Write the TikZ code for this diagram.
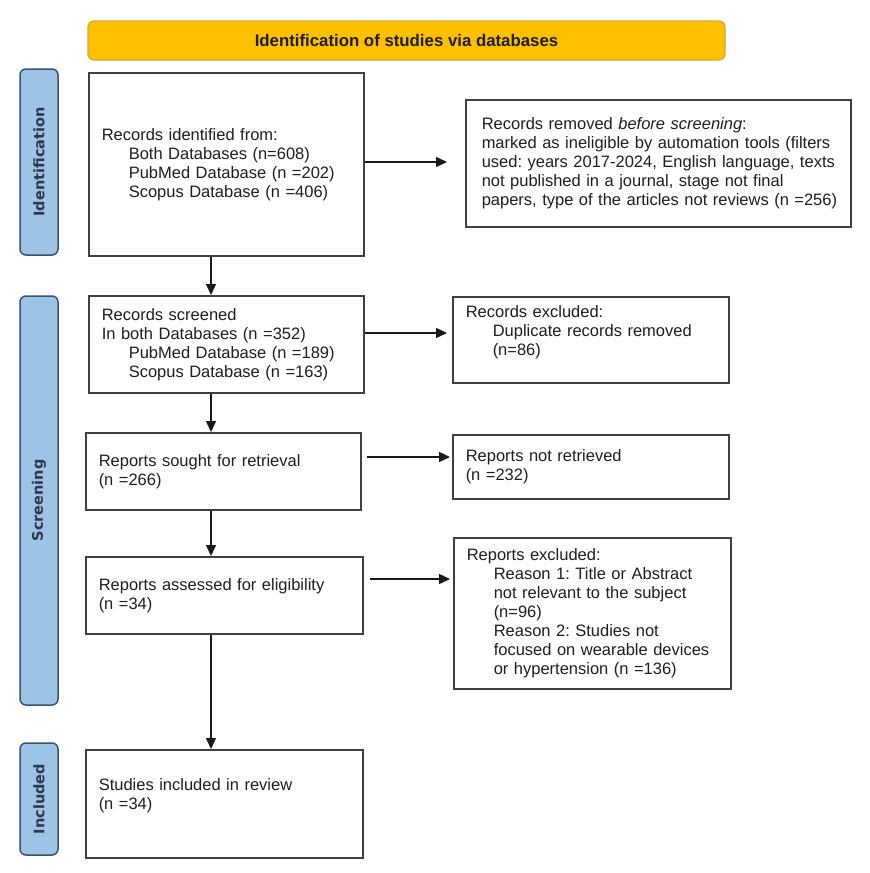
\documentclass[tikz,border=0pt]{standalone}
\usepackage{fontspec}
\setmainfont{Liberation Sans}
\newfontfamily\sidefont{DejaVu Sans}
\usetikzlibrary{arrows.meta}
\definecolor{gold}{HTML}{FFC000}
\definecolor{goldedge}{HTML}{D4A72C}
\definecolor{sideblue}{HTML}{9DC3E6}
\definecolor{sideedge}{HTML}{3A536B}
\definecolor{sidetext}{HTML}{2B3A4A}
\definecolor{txt}{HTML}{1E1E1E}
\frenchspacing
\hbadness=10000 \hfuzz=50pt
\begin{document}
\begin{tikzpicture}[x=1pt,y=-1pt,
  box/.style={draw=black!75, line width=1.5pt, anchor=north west, align=left,
    font=\fontsize{16.5}{19}\selectfont, text=txt, inner xsep=13pt, inner ysep=0pt},
  side/.style={draw=sideedge, fill=sideblue, line width=1.5pt, rounded corners=6pt,
    rotate=90, minimum height=38pt, inner sep=0pt, text=sidetext,
    font=\sidefont\bfseries\fontsize{14.5}{16}\selectfont},
  arr/.style={draw=black!90, line width=1.4pt, -{Triangle[length=11pt,width=10pt]}}]
\useasboundingbox (0,0) rectangle (870,873);
% banner
\node[draw=goldedge, fill=gold, line width=1.2pt, rounded corners=6pt,
  minimum width=637pt, minimum height=39pt, inner sep=0pt,
  font=\bfseries\fontsize{16.8}{18}\selectfont, text=txt] (banner) at (406.5,40.5)
  {Identification of studies via databases};
% side bars
\node[side, minimum width=186pt] (sid) at (39,162) {Identification};
\node[side, minimum width=409pt] (sscr) at (39,500.5) {Screening};
\node[side, minimum width=112pt] (sinc) at (39,799) {Included};
% boxes
\newcommand{\ii}{\hspace*{27pt}}
\newcommand{\nbl}[1]{\mbox{#1}}
\node[box, minimum width=275pt, minimum height=183pt, text width=249pt] (b1) at (88,72)
  {Records identified from:\\ \ii Both Databases (n=608)\\ \ii PubMed Database (n =202)\\ \ii Scopus Database (n =406)};
\node[box, inner xsep=16pt, minimum width=385pt, minimum height=127pt, text width=353pt] (r1) at (465,99)
  {\nbl{Records removed \textit{before screening}:}\\ \nbl{marked as ineligible by automation tools (filters}\\ \nbl{used: years 2017-2024, English language, texts}\\ \nbl{not published in a journal, stage not final}\\ \nbl{papers, type of the articles not reviews (n =256)}};
\node[box, minimum width=275pt, minimum height=97pt, text width=249pt] (b2) at (88,295)
  {Records screened\\ In both Databases (n =352)\\ \ii PubMed Database (n =189)\\ \ii Scopus Database (n =163)};
\node[box, minimum width=276pt, minimum height=86pt, text width=250pt] (r2) at (452,296)
  {Records excluded:\\ \ii Duplicate records removed\\ \ii (n=86)\\ ~};
\node[box, minimum width=275pt, minimum height=77pt, text width=249pt] (b3) at (85,432)
  {Reports sought for retrieval\\ (n =266)};
\node[box, minimum width=276pt, minimum height=64pt, text width=250pt] (r3) at (452,434)
  {Reports not retrieved\\ (n =232)};
\node[box, minimum width=277pt, minimum height=77pt, text width=251pt] (b4) at (85,556)
  {Reports assessed for eligibility\\ (n =34)};
\node[box, minimum width=277pt, minimum height=151pt, text width=251pt] (r4) at (453,537)
  {Reports excluded:\\ \ii Reason 1: Title or Abstract\\ \ii not relevant to the subject\\ \ii (n=96)\\ \ii Reason 2: Studies not\\ \ii focused on wearable devices\\ \ii or hypertension (n =136)};
\node[box, minimum width=277pt, minimum height=108pt, text width=251pt] (b5) at (85,749)
  {Studies included in review\\ (n =34)\\ ~};
% arrow guide coordinates
\coordinate (ax) at (211,0);
\coordinate (ay1) at (0,162);
\coordinate (ay2) at (0,333);
\coordinate (ay3) at (0,457);
\coordinate (ay4) at (0,579);
% vertical arrows
\draw[arr] (b1.south -| ax) -- (b2.north -| ax);
\draw[arr] (b2.south -| ax) -- (b3.north -| ax);
\draw[arr] (b3.south -| ax) -- (b4.north -| ax);
\draw[arr] (b4.south -| ax) -- (b5.north -| ax);
% horizontal arrows
\draw[arr, shorten >=18pt] (b1.east |- ay1) -- (r1.west |- ay1);
\draw[arr, shorten >=5pt] (b2.east |- ay2) -- (r2.west |- ay2);
\draw[arr, shorten <=5pt, shorten >=2pt] (b3.east |- ay3) -- (r3.west |- ay3);
\draw[arr, shorten <=6pt, shorten >=3pt] (b4.east |- ay4) -- (r4.west |- ay4);
\end{tikzpicture}
\end{document}
